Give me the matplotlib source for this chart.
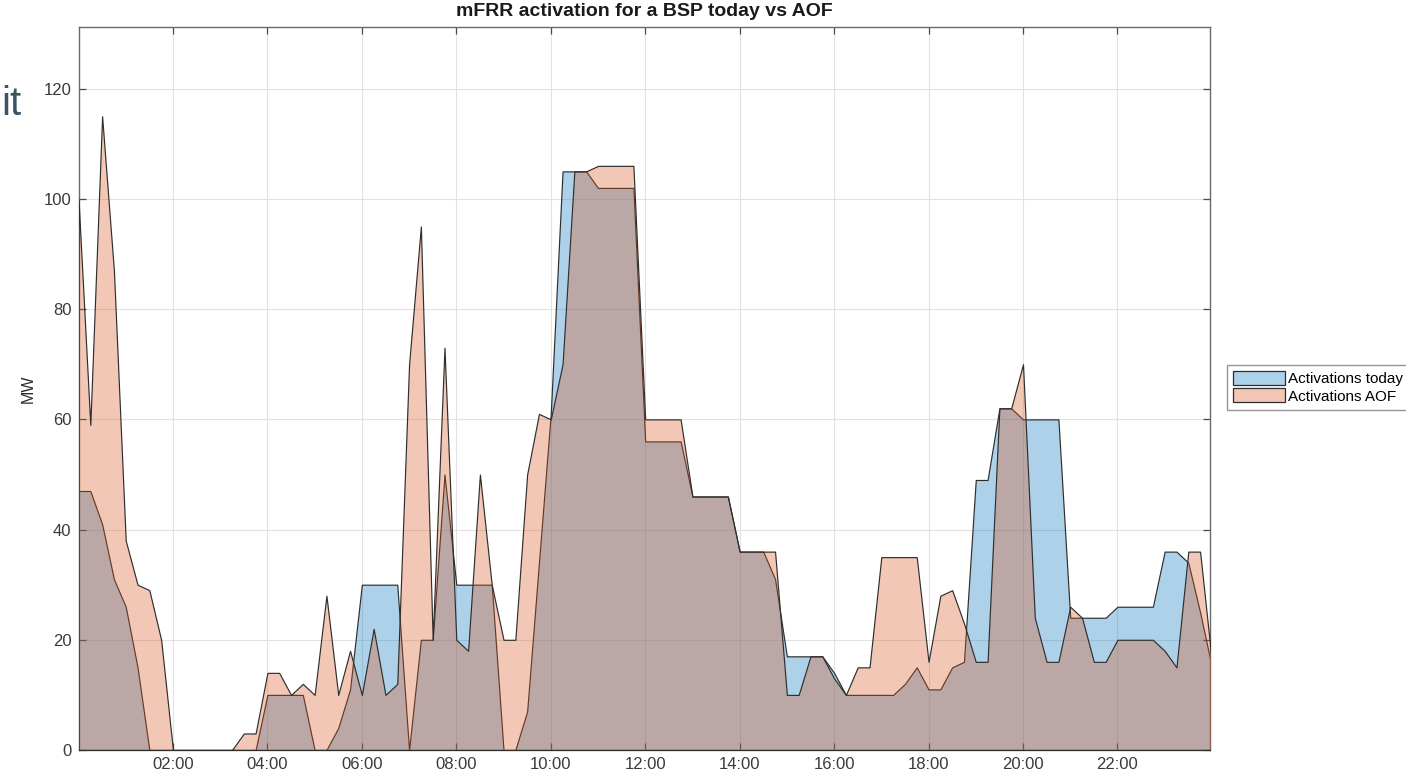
import numpy as np
import matplotlib
matplotlib.use("Agg")
import matplotlib.pyplot as plt
from matplotlib.patches import Patch

# ---------------- data (15-min resolution, hours from 00:00) ----------------
quarter_index = np.arange(97)
hours = quarter_index * 0.25

activations_today = [
    47, 47, 41, 31, 26, 15, 0, 0, 0, 0, 0, 0, 0, 0, 0, 0,          # 00:00-03:45
    10, 10, 10, 10, 0, 0, 4, 11, 30, 30, 30, 30, 0, 20, 20, 50,    # 04:00-07:45
    30, 30, 30, 30, 0, 0, 7, 34, 61, 105, 105, 105, 102, 102, 102, 102,  # 08:00-11:45
    56, 56, 56, 56, 46, 46, 46, 46, 36, 36, 36, 31, 17, 17, 17, 17,  # 12:00-15:45
    14, 10, 10, 10, 10, 10, 12, 15, 11, 11, 15, 16, 49, 49, 62, 62,  # 16:00-19:45
    60, 60, 60, 60, 24, 24, 24, 24, 26, 26, 26, 26, 36, 36, 34, 25,  # 20:00-23:45
    15,
]
activations_aof = [
    100, 59, 115, 87, 38, 30, 29, 20, 0, 0, 0, 0, 0, 0, 3, 3,
    14, 14, 10, 12, 10, 28, 10, 18, 10, 22, 10, 12, 70, 95, 20, 73,
    20, 18, 50, 30, 20, 20, 50, 61, 60, 70, 105, 105, 106, 106, 106, 106,
    60, 60, 60, 60, 46, 46, 46, 46, 36, 36, 36, 36, 10, 10, 17, 17,
    13, 10, 15, 15, 35, 35, 35, 35, 16, 28, 29, 23, 16, 16, 62, 62,
    70, 24, 16, 16, 26, 24, 16, 16, 20, 20, 20, 20, 18, 15, 36, 36,
    16,
]

xtick_hours = [2, 4, 6, 8, 10, 12, 14, 16, 18, 20, 22]
xtick_labels = ["02:00", "04:00", "06:00", "08:00", "10:00", "12:00",
                "14:00", "16:00", "18:00", "20:00", "22:00"]
ytick_values = [0, 20, 40, 60, 80, 100, 120]

series_names = ["Activations today", "Activations AOF"]
title_text = "mFRR activation for a BSP today vs AOF"

# ---------------- style ----------------
plt.rcParams["font.family"] = ["Liberation Sans", "DejaVu Sans"]

W, H = 1406, 779
fig = plt.figure(figsize=(W / 100, H / 100), dpi=100)
fig.patch.set_facecolor("white")

ax_left, ax_right, ax_top, ax_bottom = 78.5, 1210, 27, 750
ax = fig.add_axes([ax_left / W, 1 - ax_bottom / H,
                   (ax_right - ax_left) / W, (ax_bottom - ax_top) / H])

alpha = 0.32
blue = (0.0, 0.447, 0.741, alpha)
orange = (0.85, 0.325, 0.098, alpha)
edge = "#2e2e2e"

ax.fill_between(hours, 0, activations_today, facecolor=blue,
                edgecolor=edge, linewidth=0.85, zorder=2)
ax.fill_between(hours, 0, activations_aof, facecolor=orange,
                edgecolor=edge, linewidth=0.85, zorder=3)

ax.set_xlim(0, 23.96)
ax.set_ylim(0, 131.2)
ax.set_xticks(xtick_hours)
ax.set_xticklabels(xtick_labels)
ax.set_yticks(ytick_values)

ax.grid(True, color="#e2e2e2", linewidth=0.8)
ax.set_axisbelow(True)

for s in ax.spines.values():
    s.set_color("#6a6a6a")
    s.set_linewidth(1.0)
ax.tick_params(direction="in", top=True, right=True, length=5,
               width=0.9, color="#4a4a4a", labelsize=12,
               labelcolor="#3a3a3a", pad=5)

ax.set_ylabel("MW", fontsize=11.5, color="#2a2a2a", labelpad=6)

fig.text((ax_left + ax_right) / 2 / W, 1 - 12 / H, title_text,
         ha="center", va="center", fontsize=14, fontweight="bold",
         color="#1a1a1a")

# slide title fragment at the left edge
fig.text(1 / W, 1 - 104 / H, "it", ha="left", va="center",
         fontsize=29, color="#3b5461")

handles = [Patch(facecolor=blue, edgecolor=edge, linewidth=0.9),
           Patch(facecolor=orange, edgecolor=edge, linewidth=0.9)]
leg = fig.legend(handles, series_names, loc="upper left",
                 bbox_to_anchor=(1227 / W, 1 - 365 / H),
                 bbox_transform=fig.transFigure,
                 fontsize=11, frameon=True, fancybox=False,
                 handlelength=3.4, handleheight=1.0, handletextpad=0.2,
                 labelspacing=0.15, borderpad=0.4, borderaxespad=0)
leg.get_frame().set_edgecolor("#7a7a7a")
leg.get_frame().set_linewidth(1.0)

fig.savefig("out.png", dpi=100)
